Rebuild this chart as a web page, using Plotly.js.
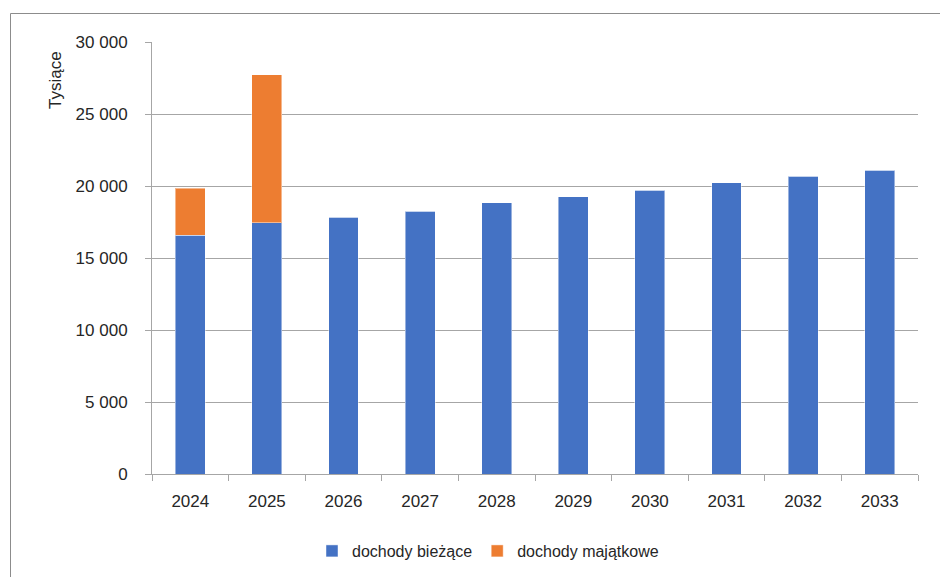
<!DOCTYPE html>
<html>
<head>
<meta charset="utf-8">
<script src="https://cdn.plot.ly/plotly-3.0.1.min.js"></script>
<style>
  html, body { margin: 0; padding: 0; background: #fff; }
  #chart { width: 940px; height: 577px; }
</style>
</head>
<body>
<div id="chart"></div>
<script>
const years = ['2024', '2025', '2026', '2027', '2028', '2029', '2030', '2031', '2032', '2033'];
const dochodyBiezace = [16570, 17450, 17820, 18260, 18820, 19240, 19690, 20210, 20670, 21110];
const dochodyMajatkowe = [3290, 10260, 0, 0, 0, 0, 0, 0, 0, 0];
const seriesNames = ['dochody bieżące', 'dochody majątkowe'];
const yTitle = 'Tysiące';

const FONT = 'Liberation Sans, Arial, sans-serif';
const TXT = '#262626';
const GRID = '#a6a6a6';

// plot-area geometry in pixels (for paper-referenced decorations)
const L = 152, R = 918, T = 42, B = 474;
const px2x = p => (p - L) / (R - L);
const py2y = p => (B - p) / (B - T);

const traces = [
  {
    type: 'bar', name: seriesNames[0], x: years, y: dochodyBiezace,
    marker: { color: '#4472C4', line: { color: 'rgba(255,255,255,0.45)', width: 1 } },
    hoverinfo: 'x+y+name'
  },
  {
    type: 'bar', name: seriesNames[1], x: years, y: dochodyMajatkowe,
    marker: { color: '#ED7D31', line: { color: 'rgba(255,255,255,0.45)', width: 1 } },
    hoverinfo: 'x+y+name'
  }
];

const layout = {
  width: 940, height: 577,
  margin: { l: L, r: 940 - R, t: T, b: 577 - B, pad: 0, autoexpand: false },
  paper_bgcolor: '#fff', plot_bgcolor: '#fff',
  barmode: 'stack', bargap: 0.61,
  separators: ', ',
  font: { family: FONT, size: 16, color: TXT },
  showlegend: true,
  legend: {
    orientation: 'h', xref: 'container', yref: 'container',
    x: 488 / 940, xanchor: 'center', y: 1 - 551 / 577, yanchor: 'middle',
    font: { family: FONT, size: 16, color: TXT }, traceorder: 'normal',
    bgcolor: 'rgba(0,0,0,0)'
  },
  xaxis: {
    type: 'category', showline: true, linecolor: GRID, linewidth: 1,
    ticks: 'outside', tickson: 'boundaries', ticklen: 6, tickcolor: GRID,
    showgrid: false, tickfont: { family: FONT, size: 17, color: TXT },
    ticklabelstandoff: 12,
    fixedrange: true
  },
  yaxis: {
    range: [0, 30000], dtick: 5000, tick0: 0, tickformat: ',d',
    showline: true, linecolor: GRID, linewidth: 1,
    ticks: 'outside', ticklen: 6, tickcolor: GRID,
    showgrid: true, gridcolor: GRID, gridwidth: 1, zeroline: false,
    tickfont: { family: FONT, size: 17, color: TXT },
    ticklabelstandoff: 14,
    fixedrange: true
  },
  annotations: [{
    text: yTitle, xref: 'paper', yref: 'paper', x: px2x(56), y: py2y(80),
    xanchor: 'center', yanchor: 'middle', textangle: -90, showarrow: false,
    font: { family: FONT, size: 17, color: TXT }
  }],
  shapes: [
    { type: 'line', xref: 'paper', yref: 'paper', x0: px2x(10.5), x1: px2x(10.5), y0: py2y(13.5), y1: py2y(580),
      line: { color: '#8c8c8c', width: 1 } },
    { type: 'line', xref: 'paper', yref: 'paper', x0: px2x(10.5), x1: px2x(945), y0: py2y(13.5), y1: py2y(13.5),
      line: { color: '#8c8c8c', width: 1 } }
  ]
};

Plotly.newPlot('chart', traces, layout, { displayModeBar: false, staticPlot: false });
</script>
</body>
</html>
